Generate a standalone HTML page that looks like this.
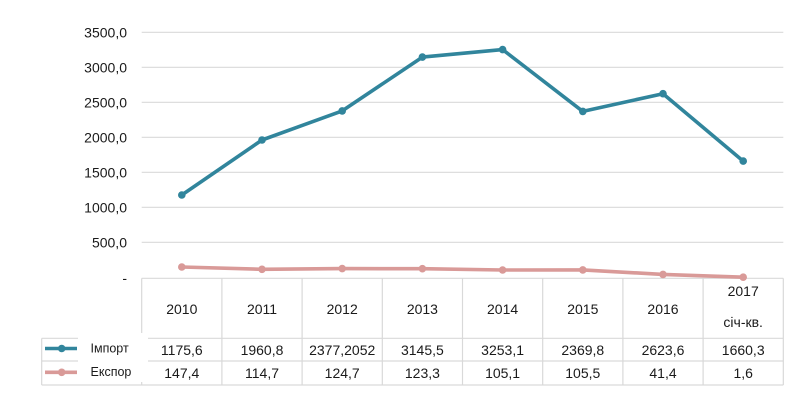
<!DOCTYPE html>
<html><head><meta charset="utf-8">
<style>
html,body{margin:0;padding:0;background:#fff;}
svg{display:block;}
text{font-family:"Liberation Sans","DejaVu Sans",sans-serif;fill:#1a1a1a;}
</style></head>
<body>
<svg width="807" height="407" viewBox="0 0 807 407" xmlns="http://www.w3.org/2000/svg">
<g stroke="#d9d9d9" stroke-width="1.2">
<line x1="141.7" y1="32.3" x2="783.3" y2="32.3"/>
<line x1="141.7" y1="67.3" x2="783.3" y2="67.3"/>
<line x1="141.7" y1="102.3" x2="783.3" y2="102.3"/>
<line x1="141.7" y1="137.3" x2="783.3" y2="137.3"/>
<line x1="141.7" y1="172.3" x2="783.3" y2="172.3"/>
<line x1="141.7" y1="207.3" x2="783.3" y2="207.3"/>
<line x1="141.7" y1="242.3" x2="783.3" y2="242.3"/>
<!-- table -->
<line x1="141.7" y1="278.3" x2="783.3" y2="278.3"/>
<line x1="41.7" y1="338.3" x2="783.3" y2="338.3"/>
<line x1="41.7" y1="361" x2="783.3" y2="361"/>
<line x1="41.7" y1="385" x2="783.3" y2="385"/>
<line x1="41.7" y1="338.3" x2="41.7" y2="385"/>
<line x1="141.7" y1="278.3" x2="141.7" y2="385"/>
<line x1="221.9" y1="278.3" x2="221.9" y2="385"/>
<line x1="302.1" y1="278.3" x2="302.1" y2="385"/>
<line x1="382.3" y1="278.3" x2="382.3" y2="385"/>
<line x1="462.5" y1="278.3" x2="462.5" y2="385"/>
<line x1="542.7" y1="278.3" x2="542.7" y2="385"/>
<line x1="622.9" y1="278.3" x2="622.9" y2="385"/>
<line x1="703.1" y1="278.3" x2="703.1" y2="385"/>
<line x1="783.3" y1="278.3" x2="783.3" y2="385"/>
</g>
<!-- white box behind legend labels -->
<rect x="78" y="333" width="70" height="49" fill="#fff"/>

<!-- y labels -->
<g font-size="14" text-anchor="end">
<text x="127" y="37.3">3500,0</text>
<text x="127" y="72.3">3000,0</text>
<text x="127" y="107.3">2500,0</text>
<text x="127" y="142.3">2000,0</text>
<text x="127" y="177.3">1500,0</text>
<text x="127" y="212.3">1000,0</text>
<text x="127" y="247.3">500,0</text>
<text x="127" y="283">-</text>
</g>

<!-- series -->
<polyline fill="none" stroke="#D99A98" stroke-width="3.6" stroke-linejoin="round" points="181.8,267.0 262.0,269.3 342.2,268.6 422.4,268.7 502.6,270.0 582.8,269.9 663.0,274.4 743.2,277.2"/>
<g fill="#D99A98">
<circle cx="181.8" cy="267.0" r="3.8"/><circle cx="262.0" cy="269.3" r="3.8"/><circle cx="342.2" cy="268.6" r="3.8"/><circle cx="422.4" cy="268.7" r="3.8"/><circle cx="502.6" cy="270.0" r="3.8"/><circle cx="582.8" cy="269.9" r="3.8"/><circle cx="663.0" cy="274.4" r="3.8"/><circle cx="743.2" cy="277.2" r="3.8"/>
</g>
<polyline fill="none" stroke="#31859C" stroke-width="3.6" stroke-linejoin="round" points="181.8,195.0 262.0,140.0 342.2,110.9 422.4,57.1 502.6,49.6 582.8,111.4 663.0,93.7 743.2,161.1"/>
<g fill="#31859C">
<circle cx="181.8" cy="195.0" r="3.8"/><circle cx="262.0" cy="140.0" r="3.8"/><circle cx="342.2" cy="110.9" r="3.8"/><circle cx="422.4" cy="57.1" r="3.8"/><circle cx="502.6" cy="49.6" r="3.8"/><circle cx="582.8" cy="111.4" r="3.8"/><circle cx="663.0" cy="93.7" r="3.8"/><circle cx="743.2" cy="161.1" r="3.8"/>
</g>

<!-- header row -->
<g font-size="14" text-anchor="middle">
<text x="181.8" y="314">2010</text>
<text x="262.0" y="314">2011</text>
<text x="342.2" y="314">2012</text>
<text x="422.4" y="314">2013</text>
<text x="502.6" y="314">2014</text>
<text x="582.8" y="314">2015</text>
<text x="663.0" y="314">2016</text>
<text x="743.2" y="296">2017</text>
<text x="743.2" y="327">січ-кв.</text>
<!-- import row -->
<text x="181.8" y="355">1175,6</text>
<text x="262.0" y="355">1960,8</text>
<text x="342.2" y="355">2377,2052</text>
<text x="422.4" y="355">3145,5</text>
<text x="502.6" y="355">3253,1</text>
<text x="582.8" y="355">2369,8</text>
<text x="663.0" y="355">2623,6</text>
<text x="743.2" y="355">1660,3</text>
<!-- export row -->
<text x="181.8" y="378">147,4</text>
<text x="262.0" y="378">114,7</text>
<text x="342.2" y="378">124,7</text>
<text x="422.4" y="378">123,3</text>
<text x="502.6" y="378">105,1</text>
<text x="582.8" y="378">105,5</text>
<text x="663.0" y="378">41,4</text>
<text x="743.2" y="378">1,6</text>
</g>

<!-- legend -->
<line x1="45" y1="348.5" x2="77" y2="348.5" stroke="#31859C" stroke-width="3.6"/>
<circle cx="61.7" cy="348.5" r="3.8" fill="#31859C"/>
<line x1="45" y1="372.3" x2="77" y2="372.3" stroke="#D99A98" stroke-width="3.6"/>
<circle cx="61.7" cy="372.3" r="3.8" fill="#D99A98"/>
<g font-size="12.5">
<text x="90.5" y="352.5">Імпорт</text>
<text x="90.5" y="376">Експор</text>
</g>
</svg>
</body></html>
